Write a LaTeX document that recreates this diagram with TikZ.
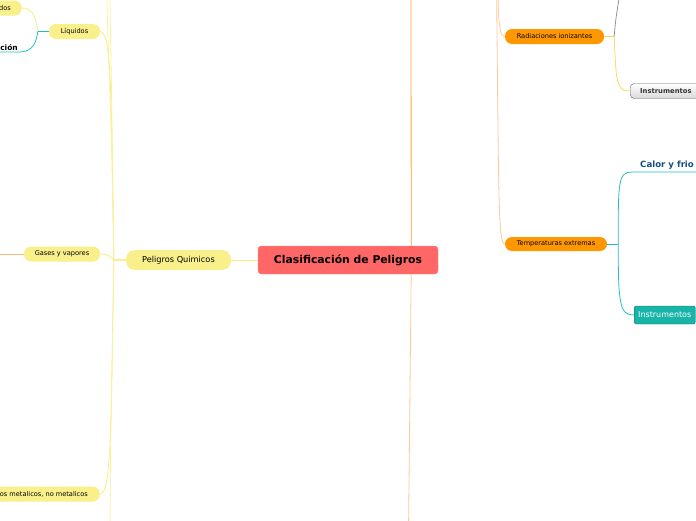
\documentclass[tikz,border=0pt]{standalone}
\usepackage{fontspec}
\setmainfont{DejaVu Sans}
\usepackage{xcolor}
\definecolor{RootRed}     {RGB}{255, 102, 102}
\definecolor{TopicYellow} {RGB}{249, 240, 140}
\definecolor{LineYellow}  {RGB}{250, 236, 130}
\definecolor{TopicOrange} {RGB}{255, 152,   0}
\definecolor{LineOrange}  {RGB}{255, 165,  40}
\definecolor{LinePeach}   {RGB}{255, 200, 155}
\definecolor{LineTeal}    {RGB}{ 35, 190, 195}
\definecolor{NodeTeal}    {RGB}{ 25, 180, 168}
\definecolor{DarkTeal}    {RGB}{ 15, 115, 110}
\definecolor{TitleBlue}   {RGB}{ 20,  80, 130}
\definecolor{EdgeGray}    {RGB}{100, 100, 100}
\definecolor{LineOlive}   {RGB}{235, 215, 100}
\usetikzlibrary{positioning}

\begin{document}
\begin{tikzpicture}[
  x=1pt, y=-1pt,
  root/.style={
    fill=RootRed, draw=RootRed!70!white,
    rounded corners=3pt, inner sep=0pt,
    minimum width=180pt, minimum height=28pt,
    font=\fontsize{10.8}{12}\selectfont\bfseries
  },
  topic/.style={
    fill=TopicYellow, rounded corners=9pt,
    inner sep=0pt, minimum width=105pt,
    minimum height=20pt,
    font=\fontsize{8.2}{9}\selectfont
  },
  leaf/.style={
    fill=TopicYellow, rounded corners=7pt,
    inner sep=0pt, minimum height=15pt,
    font=\fontsize{6.6}{8}\selectfont
  },
  hot/.style={leaf, fill=TopicOrange},
  tool/.style={
    draw=EdgeGray, top color=white, bottom color=black!15,
    rounded corners=4pt, inner ysep=0pt, inner xsep=10pt,
    minimum height=15pt,
    font=\fontsize{6.8}{8}\selectfont\bfseries,
    text=black!80
  },
  tealbox/.style={
    draw=DarkTeal, fill=NodeTeal, text=white,
    rounded corners=2pt, inner ysep=0pt, inner xsep=4pt,
    minimum height=18pt,
    font=\fontsize{8}{9}\selectfont
  },
  link/.style={line width=0.8pt}
]
\useasboundingbox (0,0) rectangle (696,520);
\clip (0,0) rectangle (696,520);

% central topic
\node[root] (root) at (348,260) {Clasificación de Peligros};

% left branch
\node[topic] (quim) at (178.5,260) {Peligros Quimicos};
\node[leaf, minimum width=51pt] (liq) at (74.5,31.5) {Líquidos};
\node[leaf, minimum width=76pt] (gases) at (62,254) {Gases y vapores};
\node[leaf, anchor=east, inner xsep=12pt] (metal) at (100,494)
  {os metalicos, no metalicos};
\node[leaf, anchor=east, inner xsep=11pt] (dos) at (22,8) {dos};
\node[anchor=south east, inner sep=1pt,
  font=\fontsize{7.5}{9}\selectfont\bfseries] (comp) at (19,52) {ición};

\coordinate (qa) at (106,-60);
\coordinate (qb) at (109,-140);
\coordinate (qc) at (110,580);
\coordinate (gv) at (-20,254);

\draw[link, LineYellow] (root.west) -- (quim.east);
\draw[link, LineYellow] (quim.west) -- ++(-12,0)
  .. controls +(-3,-160) and +(12,0) .. (liq.east);
\draw[link, LineYellow!80] (quim.west) -- ++(-12,0)
  .. controls +(-3,-200) and +(1,120) .. (qa);
\draw[link, LineYellow!80] (quim.west) -- ++(-12,0)
  .. controls +(-2,-200) and +(0,150) .. (qb);
\draw[link, LineYellow] (quim.west) -- ++(-12,0)
  .. controls +(-4,-4) and +(8,0) .. (gases.east);
\draw[link, LineYellow] (quim.west) -- ++(-12,0)
  .. controls +(-3,160) and +(12,0) .. (metal.east);
\draw[link, LineYellow!80] (quim.west) -- ++(-12,0)
  .. controls +(-3,200) and +(0,-150) .. (qc);
\draw[link, LinePeach!80!orange] (gases.west) -- (gv);

\draw[link, LineTeal] (liq.west) -- ++(-11,0)
  .. controls +(-2,16) and +(10,0) .. (comp.south east)
  -- ++(-40,0);
\draw[link, LineYellow] (liq.west) ++(-11,0)
  .. controls +(-2,-16) and +(10,0) .. (dos.east);

% right branch
\coordinate (rtop) at (411,-40);
\coordinate (rbot) at (408,580);
\coordinate (pa) at (498,-40);
\coordinate (pb) at (496,-60);
\draw[link, LineOrange] ([xshift=-27pt]root.north east) -- (rtop);
\draw[link, LinePeach] ([xshift=-27pt]root.south east) -- (rbot);

\node[hot, minimum width=99pt] (radia) at (554.5,36.5)
  {Radiaciones ionizantes};
\node[hot, minimum width=102pt, minimum height=14pt] (temp) at (556,244)
  {Temperaturas extremas};
\node[tool, anchor=west] (instr) at (630,91) {Instrumentos};
\node[tealbox, anchor=west] (instrt) at (634,315) {Instrumentos};
\node[anchor=south west, inner xsep=8pt, inner ysep=2pt,
  text=TitleBlue, font=\fontsize{8.6}{10}\selectfont\bfseries]
  (calor) at (632,172) {Calor y frio};

\draw[link, LinePeach] (pa) .. controls +(0,50) and +(-7,0) .. (radia.west);
\draw[link, LinePeach] (pb) .. controls +(3,260) and +(-7,0) .. (temp.west);

\coordinate (ra) at (624,-40);
\draw[link, LineOlive] (radia.east) -- ++(10,0);
\draw[link, EdgeGray!70] (radia.east) ++(10,0)
  .. controls +(2,-30) and +(-2,30) .. (ra);
\draw[link, LineYellow!80!orange] (radia.east) ++(10,0)
  .. controls +(2,45) and +(-14,0) .. (instr.west);

\draw[link, LineTeal] (temp.east) -- ++(11,0);
\draw[link, LineTeal] (temp.east) ++(11,0)
  .. controls +(0,-62) and +(-14,0) .. (calor.south west)
  -- ++(90,0);
\draw[link, LineTeal] (temp.east) ++(11,0)
  .. controls +(0,62) and +(-14,0) .. (instrt.west);

\end{tikzpicture}
\end{document}
